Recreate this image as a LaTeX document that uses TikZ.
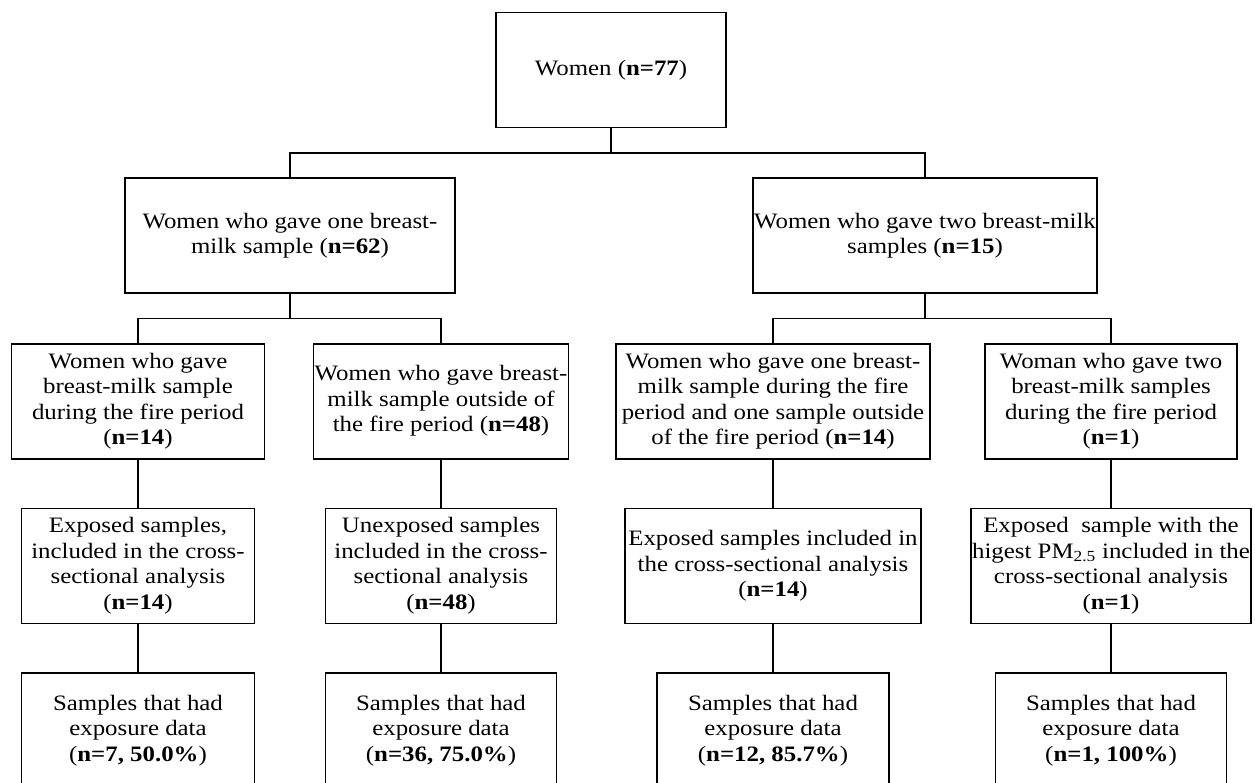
\documentclass[tikz,border=0pt]{standalone}
\usepackage{fontspec}
\setmainfont{Liberation Serif}[FakeStretch=1.13]
\usepackage{tikz}
\usetikzlibrary{positioning}

\tikzset{box/.style={draw, line width=1.6pt, align=center, minimum height=115pt, inner sep=1pt}}

\begin{document}
\begin{tikzpicture}[node distance=48pt,auto,font=\fontsize{22}{25.5}\selectfont,line width=1.6pt]
		\useasboundingbox (0,0) rectangle (1255pt,-782pt);
		\clip (0,0) rectangle (1255pt,-782pt);
		\node[box, minimum width=230pt] (women) at (611pt,-70pt) {Women (\textbf{n=77})};
		\node[box, minimum width=330pt, below=49pt of women, xshift=-321pt] (one) {Women who gave one breast-\\milk sample (\textbf{n=62})};
		\node[box, minimum width=344pt, below=49pt of women, xshift=314pt] (two) {Women who gave two breast-milk\\samples (\textbf{n=15})};
		% third row
		\node[box, minimum width=253pt, below=49pt of one, xshift=-152pt] (onefire) {Women who gave\\breast-milk sample\\during the fire period\\(\textbf{n=14})};
		\node[box, minimum width=255pt, below=49pt of one, xshift=151pt] (oneout) {Women who gave breast-\\milk sample outside of\\the fire period (\textbf{n=48})};
		\node[box, minimum width=314pt, below=49pt of two, xshift=-152pt] (twomix) {Women who gave one breast-\\milk sample during the fire\\period and one sample outside\\of the fire period (\textbf{n=14})};
		\node[box, minimum width=252pt, below=49pt of two, xshift=186pt] (twofire) {Woman who gave two\\breast-milk samples\\during the fire period\\(\textbf{n=1})};
		% fourth row
		\node[box, minimum width=233pt, below=of onefire] (expa) {Exposed samples,\\included in the cross-\\sectional analysis\\(\textbf{n=14})};
		\node[box, minimum width=231pt, below=of oneout] (unexp) {Unexposed samples\\included in the cross-\\sectional analysis\\(\textbf{n=48})};
		\node[box, minimum width=296pt, below=of twomix] (expb) {Exposed samples included in\\the cross-sectional analysis\\(\textbf{n=14})};
		\node[box, minimum width=280pt, below=of twofire] (expc) {Exposed\ \ sample with the\\higest PM\textsubscript{2.5} included in the\\cross-sectional analysis\\(\textbf{n=1})};
		% fifth row
		\node[box, minimum width=233pt, below=of expa] (dataa) {Samples that had\\exposure data\\(\textbf{n=7, 50.0\%})};
		\node[box, minimum width=231pt, below=of unexp] (datab) {Samples that had\\exposure data\\(\textbf{n=36, 75.0\%})};
		\node[box, minimum width=232pt, below=of expb] (datac) {Samples that had\\exposure data\\(\textbf{n=12, 85.7\%})};
		\node[box, minimum width=231pt, below=of expc] (datad) {Samples that had\\exposure data\\(\textbf{n=1, 100\%})};

		\draw (women.south) -- ++(0,-24.5pt) coordinate (split);
		\draw (one.north) |- (split) -| (two.north);
		\draw (one.south) -- ++(0,-24.5pt) coordinate (splitone);
		\draw (onefire.north) |- (splitone) -| (oneout.north);
		\draw (two.south) -- ++(0,-24.5pt) coordinate (splittwo);
		\draw (twomix.north) |- (splittwo) -| (twofire.north);
		\draw (onefire) -- (expa);
		\draw (oneout) -- (unexp);
		\draw (twomix) -- (expb);
		\draw (twofire) -- (expc);
		\draw (expa) -- (dataa);
		\draw (unexp) -- (datab);
		\draw (expb) -- (datac);
		\draw (expc) -- (datad);
	\end{tikzpicture}
\end{document}
